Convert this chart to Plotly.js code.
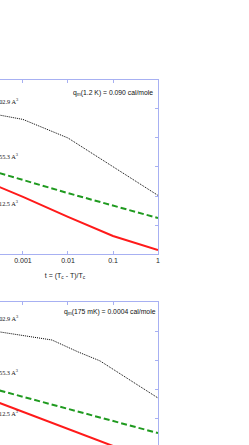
<!DOCTYPE html>
<html>
<head>
<meta charset="utf-8">
<script src="https://cdn.plot.ly/plotly-3.0.1.min.js"></script>
<style>
html,body{margin:0;padding:0;width:249px;height:445px;overflow:hidden;background:#fff;}
#chart{position:absolute;left:-40px;top:0;width:289px;height:520px;}
</style>
</head>
<body>
<div id="chart"></div>
<script>
// top panel (1.2 K)
const topBlackT = [0.0003, 0.001, 0.01, 0.1, 1];
const topBlackY = [4.79, 4.64, 4.00, 3.00, 2.02];
const topGreenT = [0.0003, 0.01, 1];
const topGreenY = [2.79, 2.10, 1.24];
const topRedT = [0.0003, 0.001, 0.01, 0.05, 0.1, 1];
const topRedY = [2.31, 1.97, 1.28, 0.83, 0.62, 0.14];
// bottom panel (175 mK)
const botBlackT = [0.0003, 0.0044, 0.0167, 0.0514, 1];
const botBlackY = [4.97, 4.69, 4.28, 3.97, 2.69];
const botGreenT = [0.0003, 1];
const botGreenY = [2.95, 1.48];
const botRedT = [0.0003, 0.0858, 1];
const botRedY = [2.52, 1.07, 0.45];

const tickVals = [0.0001, 0.001, 0.01, 0.1, 1];
const tickText = ["0.0001", "0.001", "0.01", "0.1", "1"];
const volumeLabels = ["102.9 A<sup>3</sup>", "55.3 A<sup>3</sup>", "12.5 A<sup>3</sup>"];
const topLabelY = [5.28, 3.38, 1.76];
const botLabelY = [5.45, 3.59, 2.17];
const topNote = "q<sub>m</sub>(1.2 K) = 0.090 cal/mole";
const botNote = "q<sub>m</sub>(175 mK) = 0.0004 cal/mole";
const xTitle = "t = (T<sub>c</sub> - T)/T<sub>c</sub>";

const axisCol = '#a7b0f2';
const blackLine = {color:'#000', width:1, dash:'1px,1px'};
const greenLine = {color:'#1f9a1f', width:2, dash:'6px,3px'};
const redLine = {color:'#ff1a1a', width:2};

function tr(x, y, line, xa, ya) {
  return {x:x, y:y, type:'scatter', mode:'lines', line:line, xaxis:xa, yaxis:ya, hoverinfo:'skip'};
}
const data = [
  tr(topBlackT, topBlackY, blackLine, 'x', 'y'),
  tr(topGreenT, topGreenY, greenLine, 'x', 'y'),
  tr(topRedT, topRedY, redLine, 'x', 'y'),
  tr(botBlackT, botBlackY, blackLine, 'x2', 'y2'),
  tr(botGreenT, botGreenY, greenLine, 'x2', 'y2'),
  tr(botRedT, botRedY, redLine, 'x2', 'y2')
];

function xax(anchor) {
  return {
    type:'log', range:[-4.133, 0], anchor:anchor,
    tickvals:tickVals, ticktext:tickText,
    ticks:'inside', ticklen:3, tickcolor:axisCol, tickwidth:1,
    showline:true, linecolor:axisCol, linewidth:1, mirror:'ticks',
    showgrid:false, zeroline:false,
    tickfont:{family:'Liberation Sans, Arial, sans-serif', size:7, color:'#222'},
    title:{text:xTitle, font:{family:'Liberation Sans, Arial, sans-serif', size:7, color:'#222'}, standoff:9}
  };
}
function yax(anchor, domain) {
  return {
    range:[0, 6], dtick:1, anchor:anchor, domain:domain,
    ticks:'inside', ticklen:3, tickcolor:axisCol, tickwidth:1,
    showline:true, linecolor:axisCol, linewidth:1, mirror:'ticks',
    showgrid:false, zeroline:false, showticklabels:false
  };
}

const serif = {family:'Liberation Serif, Times New Roman, serif', size:6.3, color:'#111'};
const sans = {family:'Liberation Sans, Arial, sans-serif', size:6.8, color:'#111'};
const annotations = [];
volumeLabels.forEach((t, i) => {
  annotations.push({xref:'x', yref:'y', x:-3.055, y:topLabelY[i], text:t, showarrow:false, xanchor:'right', yanchor:'middle', font:serif});
  annotations.push({xref:'x2', yref:'y2', x:-3.055, y:botLabelY[i], text:t, showarrow:false, xanchor:'right', yanchor:'middle', font:serif});
});
annotations.push({xref:'x', yref:'y', x:-0.07, y:5.55, text:topNote, showarrow:false, xanchor:'right', yanchor:'middle', font:sans});
annotations.push({xref:'x2', yref:'y2', x:-0.005, y:5.66, text:botNote, showarrow:false, xanchor:'right', yanchor:'middle', font:sans});

const layout = {
  width:289, height:520,
  margin:{l:12, r:91, t:0, b:0},
  paper_bgcolor:'#fff', plot_bgcolor:'#fff',
  showlegend:false,
  xaxis:xax('y'),
  yaxis:yax('x', [0.5115, 0.8462]),
  xaxis2:xax('y2'),
  yaxis2:yax('x2', [0.0846, 0.4192]),
  annotations:annotations
};
Plotly.newPlot('chart', data, layout, {staticPlot:true, displayModeBar:false});
</script>
</body>
</html>
